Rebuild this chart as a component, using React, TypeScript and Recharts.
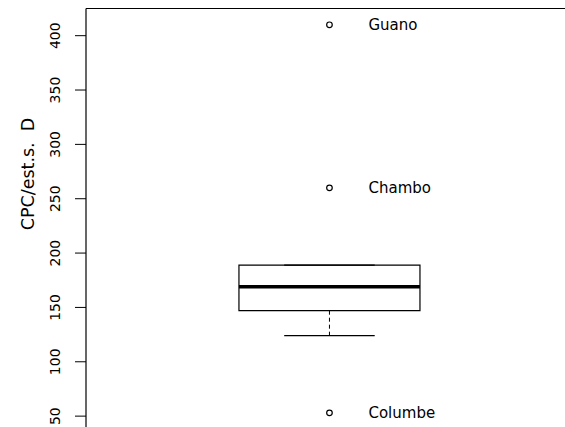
import React from 'react';
import {
  ComposedChart,
  XAxis,
  YAxis,
  Scatter,
  ReferenceArea,
  ReferenceLine,
  LabelList,
} from 'recharts';

// Five-number summary of the box (lower whisker, Q1, median, Q3, upper whisker)
const statNames = ['lower', 'q1', 'median', 'q3', 'upper'];
const statValues = [124, 147, 169, 189, 189];

// Points beyond the whiskers, with their site names
const outlierNames = ['Guano', 'Chambo', 'Columbe'];
const outlierValues = [410, 260, 53];

// Y axis tick values
const yTicks = [50, 100, 150, 200, 250, 300, 350, 400];

const yTitle = 'CPC/est.s.  D';

const FONT = 'DejaVu Sans';
const W = 565;
const H = 427;
const BOX_X = 1;
const BOX_HALF = 0.4;
const CAP_HALF = 0.2;
const X_DOMAIN: [number, number] = [-0.076, 2.041];
const Y_DOMAIN: [number, number] = [40, 425];

const stat = (name: string) => statValues[statNames.indexOf(name)];

const outlierData = outlierNames.map((name, i) => ({
  x: BOX_X,
  y: outlierValues[i],
  name,
}));

const YTick = (props: any) => {
  const { x, y, payload } = props;
  const bx = x - 13;
  return (
    <text
      x={bx}
      y={y}
      transform={`rotate(-90, ${bx}, ${y})`}
      textAnchor="middle"
      fontSize={14}
      fontFamily={FONT}
      fill="#000"
    >
      {payload.value}
    </text>
  );
};

const OutlierLabel = (props: any) => {
  const { x, y, width, height, value } = props;
  const cx = x + (width || 0) / 2;
  const cy = y + (height || 0) / 2;
  return (
    <text
      x={cx + 39}
      y={cy}
      dy="0.35em"
      textAnchor="start"
      fontSize={15}
      fontFamily={FONT}
      fill="#000"
    >
      {value}
    </text>
  );
};

const OpenCircle = (props: any) => {
  const { cx, cy } = props;
  return <circle cx={cx} cy={cy} r={2.8} fill="none" stroke="#000" strokeWidth={1.2} />;
};

export default function App() {
  const lower = stat('lower');
  const q1 = stat('q1');
  const median = stat('median');
  const q3 = stat('q3');
  const upper = stat('upper');

  return (
    <div style={{ position: 'absolute', left: 0, top: 0, width: W, height: H, background: '#fff' }}>
      <ComposedChart
        width={W}
        height={H}
        data={outlierData}
        margin={{ top: 8.5, right: 0, bottom: 0, left: 0 }}
      >
        <XAxis type="number" dataKey="x" domain={X_DOMAIN} hide allowDataOverflow />
        <YAxis
          type="number"
          dataKey="y"
          domain={Y_DOMAIN}
          ticks={yTicks}
          width={86}
          tickSize={11}
          tickLine={{ stroke: '#000', strokeWidth: 1 }}
          axisLine={{ stroke: '#000', strokeWidth: 1.2 }}
          tick={<YTick />}
          allowDataOverflow
          label={{
            content: () => (
              <text
                x={34}
                y={174}
                transform="rotate(-90, 34, 174)"
                textAnchor="middle"
                fontSize={17.5}
                fontFamily={FONT}
                fill="#000"
                style={{ whiteSpace: 'pre' }}
              >
                {yTitle}
              </text>
            ),
          }}
        />
        {/* top frame line */}
        <ReferenceLine y={Y_DOMAIN[1]} stroke="#000" strokeWidth={1.2} ifOverflow="visible" />
        {/* box from Q1 to Q3 */}
        <ReferenceArea
          x1={BOX_X - BOX_HALF}
          x2={BOX_X + BOX_HALF}
          y1={q1}
          y2={q3}
          fill="#fff"
          fillOpacity={1}
          stroke="#000"
          strokeWidth={1.2}
        />
        {/* whiskers */}
        <ReferenceLine
          segment={[
            { x: BOX_X, y: q1 },
            { x: BOX_X, y: lower },
          ]}
          stroke="#000"
          strokeDasharray="4 3"
        />
        <ReferenceLine
          segment={[
            { x: BOX_X, y: q3 },
            { x: BOX_X, y: upper },
          ]}
          stroke="#000"
          strokeDasharray="4 3"
        />
        <ReferenceLine
          segment={[
            { x: BOX_X - CAP_HALF, y: lower },
            { x: BOX_X + CAP_HALF, y: lower },
          ]}
          stroke="#000"
          strokeWidth={1.2}
        />
        <ReferenceLine
          segment={[
            { x: BOX_X - CAP_HALF, y: upper },
            { x: BOX_X + CAP_HALF, y: upper },
          ]}
          stroke="#000"
          strokeWidth={1.2}
        />
        {/* median */}
        <ReferenceLine
          segment={[
            { x: BOX_X - BOX_HALF, y: median },
            { x: BOX_X + BOX_HALF, y: median },
          ]}
          stroke="#000"
          strokeWidth={3.5}
        />
        <Scatter dataKey="y" shape={<OpenCircle />} isAnimationActive={false}>
          <LabelList dataKey="name" content={<OutlierLabel />} />
        </Scatter>
      </ComposedChart>
    </div>
  );
}
